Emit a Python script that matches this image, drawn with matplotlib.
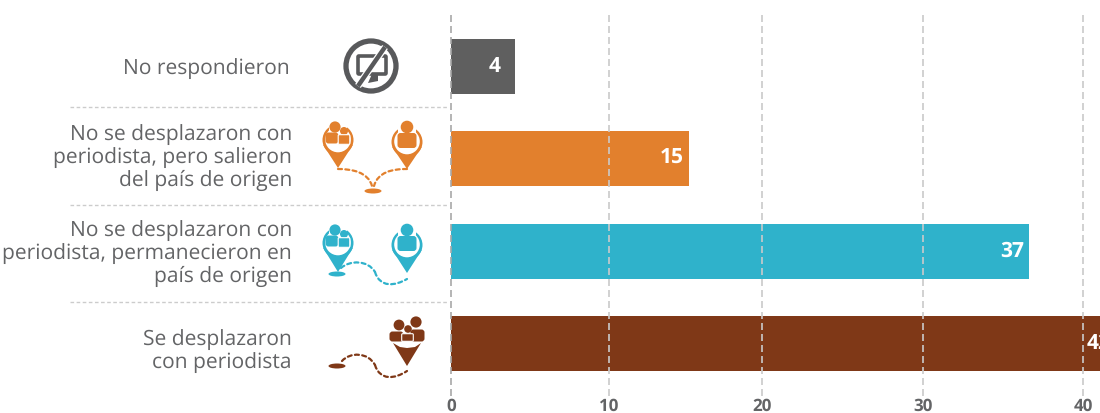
import matplotlib
matplotlib.use('Agg')
import matplotlib.pyplot as plt
from matplotlib.patches import Circle, Ellipse, FancyBboxPatch, PathPatch, Polygon
from matplotlib.path import Path

plt.rcParams['font.family'] = ['Open Sans', 'DejaVu Sans']
plt.rcParams['text.hinting'] = 'none'
plt.rcParams['text.hinting_factor'] = 1

# Data
categories = [
    'No respondieron',
    'No se desplazaron con\nperiodista, pero salieron\ndel país de origen',
    'No se desplazaron con\nperiodista, permanecieron en\npaís de origen',
    'Se desplazaron\ncon periodista',
]
values = [4.05, 15.05, 36.6, 42.5]
value_labels = ['4', '15', '37', '42']
bar_colors = ['#5f5f5f', '#e2802d', '#2fb2cb', '#7f3817']
tick_labels = ['0', '10', '20', '30', '40']
# the gridlines in the original are not quite evenly spaced
tick_positions = [0, 10, 19.68, 29.9, 40]

W, H = 1100, 413
TEXT_GRAY = '#636466'
ICON_GRAY = '#58595b'

fig = plt.figure(figsize=(W / 100, H / 100), dpi=100)

# Main axes, placed so 0 sits at x=451 px
ax = fig.add_axes([451 / W, 1 - 396 / H, 1 - 451 / W, (396 - 12) / H])
ax.barh(range(len(values)), values, height=0.595, color=bar_colors, zorder=2)
ax.set_xlim(0, (W - 451) / 15.8)
ax.set_ylim(3.569, -0.59)
ax.set_xticks(tick_positions)
ax.set_xticklabels(tick_labels, fontsize=12.6, fontweight='bold', color=TEXT_GRAY)
ax.set_yticks([])
ax.tick_params(axis='x', length=0, pad=1.5)
for s in ax.spines.values():
    s.set_visible(False)
ax.patch.set_alpha(0)
for i, t in enumerate(tick_positions):
    ax.axvline(t, color='#a8a8a8' if i == 0 else '#cacaca', lw=1.2,
               dashes=(4.2, 2.4), zorder=3, clip_on=False)

# category labels are not quite centred on their bars in the original
text_nudge = [(-116.5, -1.6), (-114.5, 0.8), (-114.5, -1.5), (-114.5, -5.4)]
for i, lab in enumerate(categories):
    ax.annotate(lab, (0, i), xytext=text_nudge[i], textcoords='offset points', ha='right',
                va='center', ma='right', fontsize=14.8, color=TEXT_GRAY, linespacing=1.12,
                annotation_clip=False)

# the single digit sits further in from the bar end
label_offsets = [-10.5, -4, -4, -8.5]
for i, (v, lab) in enumerate(zip(values, value_labels)):
    ax.annotate(lab, (v, i), xytext=(label_offsets[i], 0), textcoords='offset points',
                ha='right', va='center', color='white', fontsize=14.8, fontweight='bold',
                zorder=4, annotation_clip=False)

# Overlay in pixel coordinates for separators and icons
ov = fig.add_axes([0, 0, 1, 1])
ov.set_xlim(0, W)
ov.set_ylim(H, 0)
ov.axis('off')
ov.patch.set_alpha(0)

for y in [107, 205, 302]:
    ov.plot([70, 448], [y, y], color='#cccccc', lw=1.0, dashes=(2.6, 1.8))


def pin(cx, cy, tip, color):
    # ring with pointed bottom, top left open for the people
    ov.add_patch(Polygon([(cx - 14.8, cy + 5), (cx, tip), (cx + 14.8, cy + 5)], color=color, lw=0))
    ov.add_patch(Circle((cx, cy), 15.5, color=color, lw=0))
    ov.add_patch(Circle((cx, cy - 0.5), 12.8, color='white', lw=0))
    ov.add_patch(Polygon([(cx - 9, cy - 20), (cx + 9, cy - 20), (cx + 9, cy - 8), (cx - 9, cy - 8)],
                         color='white', lw=0))


def single(cx, cy, color):
    ov.add_patch(Circle((cx, cy - 16), 6.3, color=color, lw=0))
    ov.add_patch(FancyBboxPatch((cx - 8.5, cy - 9), 17, 13, boxstyle='round,pad=1,rounding_size=3',
                                color=color, lw=0))


def family(cx, cy, color):
    ov.add_patch(Circle((cx - 3, cy - 13), 5.6, color=color, lw=0))
    ov.add_patch(Circle((cx + 6, cy - 9), 4, color=color, lw=0))
    ov.add_patch(FancyBboxPatch((cx - 12, cy - 7), 12, 10, boxstyle='round,pad=0.5,rounding_size=3',
                                color=color, lw=0))
    ov.add_patch(FancyBboxPatch((cx + 0.5, cy - 5), 11, 9, boxstyle='round,pad=0.3,rounding_size=1',
                                facecolor=color, edgecolor='white', lw=0.8))


def dashed(points, color):
    codes = [Path.MOVETO] + [Path.CURVE4] * (len(points) - 1)
    ov.add_patch(PathPatch(Path(points, codes), fill=False, edgecolor=color, lw=1.6,
                           linestyle=(0, (1.8, 1.5)), capstyle='round'))


# No respondieron icon
c = ICON_GRAY
ov.add_patch(Circle((371, 66), 25, fill=False, edgecolor=c, lw=3.8))
ov.add_patch(FancyBboxPatch((358, 56), 28, 18, boxstyle='round,pad=0,rounding_size=1',
                            fill=False, edgecolor=c, lw=2.6))
ov.add_patch(Polygon([(378, 74), (378, 81), (368, 83), (372, 74)], color=c, lw=0))
ov.plot([358, 385], [86, 47], color='white', lw=5.0, solid_capstyle='butt')
ov.plot([358, 385], [86, 47], color=c, lw=3.2, solid_capstyle='butt')

# Orange icon
c = bar_colors[1]
pin(338, 140, 168, c)
family(338, 140, c)
pin(407, 142, 169, c)
single(407, 143, c)
dashed([(338, 169), (352, 169), (368, 172), (372, 186)], c)
dashed([(407, 169), (392, 169), (378, 172), (374, 186)], c)
ov.add_patch(Ellipse((373, 191), 17, 5, color=c, lw=0))

# Teal icon
c = bar_colors[2]
pin(338, 243, 272, c)
family(338, 243, c)
pin(407, 245, 273, c)
single(407, 246, c)
ov.add_patch(Ellipse((337, 274), 17, 5, color=c, lw=0))
dashed([(341, 268), (350, 260), (368, 260), (375, 272)], c)
dashed([(375, 272), (380, 288), (395, 286), (407, 279)], c)

# Brown icon
c = bar_colors[3]
ov.add_patch(Circle((399, 325), 5.4, color=c, lw=0))
ov.add_patch(Circle((416, 322), 5.6, color=c, lw=0))
ov.add_patch(Circle((408, 329), 3.8, color=c, lw=0))
ov.add_patch(FancyBboxPatch((390, 332), 13, 9, boxstyle='round,pad=0.5,rounding_size=3', color=c, lw=0))
ov.add_patch(FancyBboxPatch((411, 330), 13, 11, boxstyle='round,pad=0.5,rounding_size=3', color=c, lw=0))
ov.add_patch(FancyBboxPatch((402, 334), 11, 7, boxstyle='round,pad=0.3,rounding_size=1',
                            facecolor=c, edgecolor='white', lw=0.8))
ov.add_patch(Polygon([(393, 343), (400, 347), (407, 348), (415, 347), (421, 343), (407, 366)], color=c, lw=0))
ov.add_patch(Ellipse((337, 366), 17, 5, color=c, lw=0))
dashed([(342, 361), (350, 352), (368, 352), (375, 365)], c)
dashed([(375, 365), (380, 381), (395, 379), (407, 371)], c)

fig.savefig('out.png', dpi=100)
